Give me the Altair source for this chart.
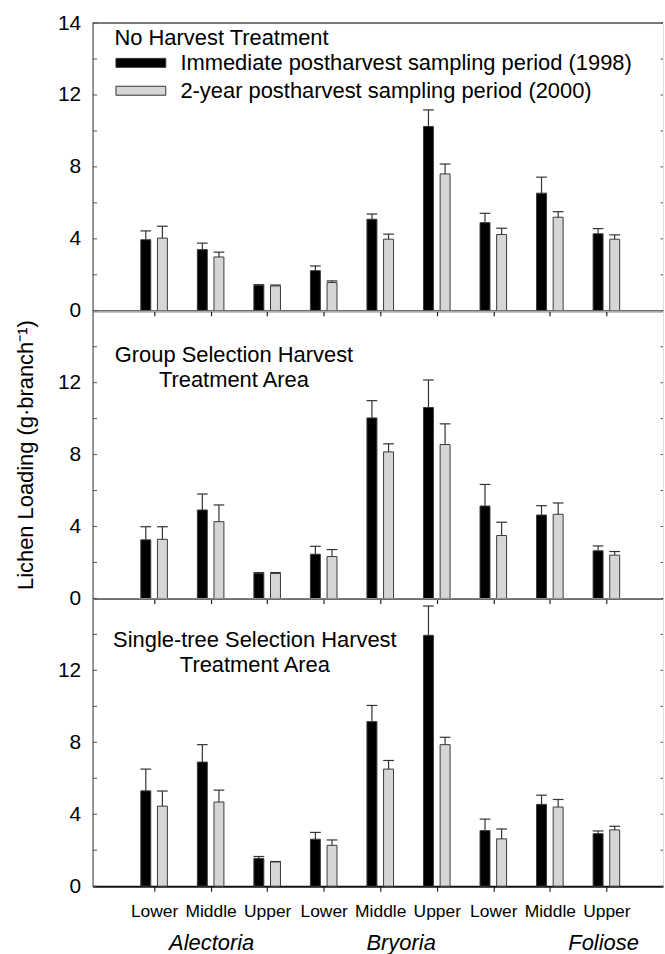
import altair as alt
import pandas as pd

# ---------------- data ----------------
levels = ["Lower", "Middle", "Upper"]
genera = ["Alectoria", "Bryoria", "Foliose"]
periods = ["Immediate postharvest sampling period (1998)",
           "2-year postharvest sampling period (2000)"]
panel_titles = ["No Harvest Treatment",
                "Group Selection Harvest\nTreatment Area",
                "Single-tree Selection Harvest\nTreatment Area"]
y_title = "Lichen Loading (g·branch⁻¹)"

# No harvest
nh_1998 = [3.95, 3.40, 1.42, 2.23, 5.09, 10.25, 4.90, 6.54, 4.28]
nh_1998_top = [4.44, 3.76, 1.45, 2.49, 5.38, 11.17, 5.42, 7.43, 4.57]
nh_2000 = [4.04, 2.99, 1.38, 1.57, 3.98, 7.61, 4.24, 5.20, 3.98]
nh_2000_top = [4.70, 3.26, 1.43, 1.66, 4.26, 8.16, 4.59, 5.51, 4.22]
# Group selection
gs_1998 = [3.26, 4.92, 1.39, 2.46, 10.04, 10.62, 5.14, 4.64, 2.65]
gs_1998_top = [3.99, 5.81, 1.44, 2.90, 11.00, 12.15, 6.34, 5.16, 2.92]
gs_2000 = [3.29, 4.27, 1.39, 2.33, 8.15, 8.56, 3.50, 4.68, 2.41]
gs_2000_top = [3.99, 5.20, 1.44, 2.72, 8.60, 9.71, 4.24, 5.31, 2.61]
# Single-tree selection
st_1998 = [5.30, 6.90, 1.54, 2.61, 9.15, 13.95, 3.09, 4.55, 2.92]
st_1998_top = [6.51, 7.87, 1.65, 2.99, 10.05, 15.58, 3.73, 5.06, 3.07]
st_2000 = [4.45, 4.68, 1.35, 2.27, 6.51, 7.87, 2.63, 4.40, 3.13]
st_2000_top = [5.29, 5.34, 1.37, 2.57, 6.99, 8.28, 3.18, 4.82, 3.33]

y_minor_ticks = [0, 2, 4, 6, 8, 10, 12, 14, 16]
y_label_values = [0, 4, 8, 12, 16]
y_labels_top = ["0", "4", "8", "12", "14"]
y_labels_other = ["0", "4", "8", "12", ""]

# ---------------- layout constants ----------------
W, H = 573, 289
LEFT, TOP, BOTTOM = 92, 20, 67
STEP = 57.8
XMAX = W / STEP
BAR_OFF = 0.147
CAP = 0.095
FONT = "Liberation Sans"
colors = ["#000000", "#d6d6d6"]

positions = list(range(1, len(genera) * len(levels) + 1))

xscale = alt.Scale(domain=[0, XMAX], nice=False, zero=False)
yscale = alt.Scale(domain=[0, 16], nice=False)
cscale = alt.Scale(domain=periods, range=colors)


def lab_expr(values, labels):
    expr = "''"
    for v, l in reversed(list(zip(values, labels))):
        expr = f"datum.value == {v} ? '{l}' : ({expr})"
    return expr


x_lab_expr = "[" + ",".join(f"'{l}'" for l in levels) + "][(datum.value - 1) % 3]"
one_row = pd.DataFrame({"k": [0]})


def make_panel(idx, s98, t98, s00, t00):
    rows = []
    for p, v, t in zip(positions, s98, t98):
        rows.append(dict(pos=p, period=periods[0], value=v, top=t, xpos=p - BAR_OFF))
    for p, v, t in zip(positions, s00, t00):
        rows.append(dict(pos=p, period=periods[1], value=v, top=t, xpos=p + BAR_OFF))
    df = pd.DataFrame(rows)
    df["capL"] = df["xpos"] - CAP
    df["capR"] = df["xpos"] + CAP

    last = idx == 2
    xaxis = alt.Axis(values=positions, tickSize=5, tickColor="#222", tickWidth=1.2,
                     domainColor="#111", domainWidth=2, grid=False, title=None,
                     labels=last, labelExpr=x_lab_expr, labelFontSize=17.5,
                     labelColor="black", labelPadding=11, labelFont=FONT)
    yaxis = alt.Axis(values=y_label_values, ticks=False, tickSize=0, grid=False,
                     domainColor="#777", domainWidth=1.5,
                     labelExpr=lab_expr(y_label_values, y_labels_top if idx == 0 else y_labels_other),
                     labelFontSize=21, labelPadding=12, labelColor="black", labelFont=FONT,
                     title=y_title if idx == 1 else None, titleFontSize=22,
                     titleFontWeight="normal", titleFont=FONT, titleColor="black",
                     titlePadding=20)

    if idx == 0:
        legend = alt.Legend(orient="none", legendX=22, legendY=5, padding=0,
                            title="No Harvest Treatment", titleFontSize=22,
                            titleFontWeight="normal", titleFont=FONT, titleColor="black",
                            titlePadding=2, titleLimit=600,
                            labelFontSize=22, labelFont=FONT, labelColor="black",
                            symbolType="M-5.56,-1H5.56V1H-5.56Z", symbolSize=81,
                            symbolStrokeColor="#333", symbolStrokeWidth=1,
                            symbolOffset=15.5, labelOffset=28.7, rowPadding=6,
                            labelLimit=600)
    else:
        legend = None

    base = alt.Chart(df)
    bars = base.mark_bar(size=10, stroke="#3a3a3a", strokeWidth=1).encode(
        x=alt.X("xpos:Q", scale=xscale, axis=xaxis),
        y=alt.Y("value:Q", scale=yscale, axis=yaxis),
        color=alt.Color("period:N", scale=cscale, legend=legend),
    )
    err = base.mark_rule(color="#333", strokeWidth=1.2).encode(
        x=alt.X("xpos:Q", scale=xscale, axis=xaxis),
        y=alt.Y("top:Q", scale=yscale, axis=yaxis),
        y2="value:Q",
    )
    cap = base.mark_rule(color="#333", strokeWidth=1.2).encode(
        x=alt.X("capL:Q", scale=xscale, axis=xaxis),
        x2="capR:Q",
        y=alt.Y("top:Q", scale=yscale, axis=yaxis),
    )
    tdf = pd.DataFrame({"t": y_minor_ticks})
    lticks = alt.Chart(tdf).mark_rule(color="#555", strokeWidth=1).encode(
        x=alt.value(0), x2=alt.value(4.5),
        y=alt.Y("t:Q", scale=yscale, axis=yaxis),
    )
    rticks = alt.Chart(tdf).mark_rule(color="#555", strokeWidth=1).encode(
        x=alt.value(W - 2.5), x2=alt.value(W),
        y=alt.Y("t:Q", scale=yscale, axis=yaxis),
    )
    layers = [bars, err, cap, lticks, rticks]

    if idx == 0:
        border = alt.Chart(pd.DataFrame({"t": [16]})).mark_rule(color="#555", strokeWidth=1.5).encode(
            y=alt.Y("t:Q", scale=yscale, axis=yaxis))
        # invisible anchor fixing the page's top-left corner
        anchor = alt.Chart(one_row).mark_rule(opacity=0, strokeWidth=0.1).encode(
            x=alt.value(-LEFT), x2=alt.value(-LEFT + 1), y=alt.value(-TOP))
        layers += [border, anchor]
    else:
        tx = {1: (142, 44.3), 2: (163, 42)}[idx]
        title = alt.Chart(pd.DataFrame({"label": [panel_titles[idx]]})).mark_text(
            align="center", baseline="middle", fontSize=22, font=FONT, lineHeight=25,
            lineBreak="\n", color="black").encode(
            x=alt.value(tx[0]), y=alt.value(tx[1]), text="label:N")
        layers.append(title)

    if last:
        gdf = pd.DataFrame({"genus": genera, "gpos": [positions[1], positions[4], positions[7]]})
        for g, dx in zip(genera, [1.0, 21.0, 54.0]):
            layers.append(
                alt.Chart(gdf).transform_filter(alt.datum.genus == g).mark_text(
                    fontSize=22, font=FONT, fontStyle="italic", baseline="middle",
                    align="center", dx=dx, color="black").encode(
                    x=alt.X("gpos:Q", scale=xscale, axis=xaxis),
                    y=alt.value(H + 57), text="genus:N"))
        # invisible anchor fixing the page's bottom edge
        layers.append(alt.Chart(one_row).mark_rule(opacity=0, strokeWidth=0.1).encode(
            x=alt.value(W - 1), x2=alt.value(W), y=alt.value(H + BOTTOM)))

    return alt.layer(*layers).properties(width=W, height=H)


p1 = make_panel(0, nh_1998, nh_1998_top, nh_2000, nh_2000_top)
p2 = make_panel(1, gs_1998, gs_1998_top, gs_2000, gs_2000_top)
p3 = make_panel(2, st_1998, st_1998_top, st_2000, st_2000_top)

chart = alt.vconcat(p1, p2, p3, spacing=0, bounds="flush").resolve_scale(
    color="independent").properties(
    autosize=alt.AutoSizeParams(type="pad"),
    padding={"left": 0, "top": 0, "right": 0, "bottom": 0},
).configure_view(stroke=None).configure(font=FONT)

chart.save("out.html", embed_options={"renderer": "svg", "actions": False})
